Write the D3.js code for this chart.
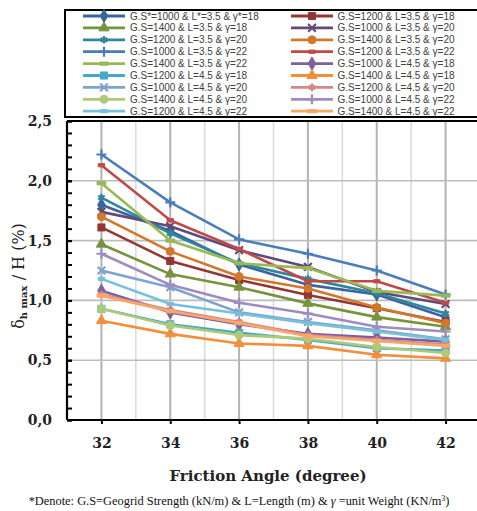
<!DOCTYPE html>
<html><head><meta charset="utf-8">
<script src="https://cdn.jsdelivr.net/npm/d3@7"></script>
<style>body{margin:0;background:#fff}svg{display:block}</style></head>
<body><svg id="c" width="477" height="511"></svg>
<script>
// ---- data ----
const angles = [32, 34, 36, 38, 40, 42];
const yTicks = [0, 0.5, 1.0, 1.5, 2.0, 2.5];
const seriesNames = [
  "G.S*=1000 & L*=3.5 & \u03b3*=18", "G.S=1200 & L=3.5 & \u03b3=18",
  "G.S=1400 & L=3.5 & \u03b3=18", "G.S=1000 & L=3.5 & \u03b3=20",
  "G.S=1200 & L=3.5 & \u03b3=20", "G.S=1400 & L=3.5 & \u03b3=20",
  "G.S=1000 & L=3.5 & \u03b3=22", "G.S=1200 & L=3.5 & \u03b3=22",
  "G.S=1400 & L=3.5 & \u03b3=22", "G.S=1000 & L=4.5 & \u03b3=18",
  "G.S=1200 & L=4.5 & \u03b3=18", "G.S=1400 & L=4.5 & \u03b3=18",
  "G.S=1000 & L=4.5 & \u03b3=20", "G.S=1200 & L=4.5 & \u03b3=20",
  "G.S=1400 & L=4.5 & \u03b3=20", "G.S=1000 & L=4.5 & \u03b3=22",
  "G.S=1200 & L=4.5 & \u03b3=22", "G.S=1400 & L=4.5 & \u03b3=22"
];
const gs1000_L35_g18 = [1.80, 1.58, 1.30, 1.13, 1.05, 0.86];
const gs1200_L35_g18 = [1.61, 1.33, 1.17, 1.045, 0.935, 0.82];
const gs1400_L35_g18 = [1.47, 1.22, 1.11, 0.975, 0.86, 0.78];
const gs1000_L35_g20 = [1.74, 1.62, 1.42, 1.28, 1.07, 0.97];
const gs1200_L35_g20 = [1.86, 1.56, 1.31, 1.18, 1.06, 0.89];
const gs1400_L35_g20 = [1.70, 1.41, 1.20, 1.10, 0.94, 0.81];
const gs1000_L35_g22 = [2.22, 1.82, 1.51, 1.39, 1.25, 1.05];
const gs1200_L35_g22 = [2.13, 1.67, 1.43, 1.16, 1.16, 0.98];
const gs1400_L35_g22 = [1.98, 1.50, 1.31, 1.27, 1.08, 1.04];
const gs1000_L45_g18 = [1.08, 0.90, 0.80, 0.72, 0.69, 0.655];
const gs1200_L45_g18 = [0.93, 0.80, 0.73, 0.67, 0.60, 0.58];
const gs1400_L45_g18 = [0.83, 0.72, 0.64, 0.62, 0.545, 0.515];
const gs1000_L45_g20 = [1.25, 1.11, 0.90, 0.82, 0.75, 0.675];
const gs1200_L45_g20 = [1.05, 0.92, 0.82, 0.71, 0.67, 0.63];
const gs1400_L45_g20 = [0.93, 0.79, 0.71, 0.68, 0.61, 0.56];
const gs1000_L45_g22 = [1.39, 1.13, 0.98, 0.89, 0.78, 0.74];
const gs1200_L45_g22 = [1.18, 0.97, 0.89, 0.81, 0.74, 0.67];
const gs1400_L45_g22 = [1.04, 0.91, 0.81, 0.70, 0.66, 0.62];
const seriesValues = [gs1000_L35_g18, gs1200_L35_g18, gs1400_L35_g18, gs1000_L35_g20,
  gs1200_L35_g20, gs1400_L35_g20, gs1000_L35_g22, gs1200_L35_g22, gs1400_L35_g22,
  gs1000_L45_g18, gs1200_L45_g18, gs1400_L45_g18, gs1000_L45_g20, gs1200_L45_g20,
  gs1400_L45_g20, gs1000_L45_g22, gs1200_L45_g22, gs1400_L45_g22];

// ---- styles ----
const colors = ["#3A649C", "#963634", "#77933C", "#604A7B", "#31859C", "#D3772A",
  "#4A7EBB", "#BE4B48", "#98B954", "#7D60A0", "#46AAC5", "#F38F3A",
  "#7EA2D2", "#D48784", "#AFC97A", "#9F8CBF", "#74C1D8", "#F9A66A"];
const symDash = {draw(ctx, size){ const w = Math.sqrt(size); ctx.rect(-w/2, -1.6, w, 3.2); }};
const symLong = {draw(ctx, size){ const w = Math.sqrt(size)*1.4; ctx.rect(-w/2, -1.6, w, 3.2); }};
const markerTypes = [
  {t:d3.symbolDiamond, s:50, f:true}, {t:d3.symbolSquare, s:50, f:true},
  {t:d3.symbolTriangle, s:45, f:true}, {t:d3.symbolTimes, s:40, f:false},
  {t:d3.symbolAsterisk, s:40, f:false}, {t:d3.symbolCircle, s:50, f:true},
  {t:d3.symbolPlus, s:35, f:false}, {t:symDash, s:40, f:true}, {t:symLong, s:40, f:true}
];

const svg = d3.select("#c");
const W = 477, H = 511;
const x = d3.scaleLinear().domain([31, 43]).range([67, 480]);
const y = d3.scaleLinear().domain([0, 2.5]).range([420, 121]);

// gridlines
const g = svg.append("g");
g.selectAll("line.vg").data(d3.range(32, 44)).join("line")
  .attr("x1", d => x(d)).attr("x2", d => x(d)).attr("y1", y(2.5)).attr("y2", y(0))
  .attr("stroke", d => d % 2 === 0 ? "#B3B3B3" : "#D9D9D9")
  .attr("stroke-width", d => d % 2 === 0 ? 2 : 1.5);
g.selectAll("line.hg").data([0.5, 1.0, 1.5, 2.0]).join("line")
  .attr("x1", x(31)).attr("x2", x(43)).attr("y1", d => y(d)).attr("y2", d => y(d))
  .attr("stroke", "#BDBDBD").attr("stroke-width", 1.6);

// series
const line = d3.line().x((d, i) => x(angles[i])).y(d => y(d));
seriesValues.forEach((vals, k) => {
  const c = colors[k], m = markerTypes[k % 9];
  svg.append("path").datum(vals).attr("d", line)
    .attr("fill", "none").attr("stroke", c).attr("stroke-width", 2.6).attr("stroke-linejoin", "round");
  const sym = d3.symbol().type(m.t).size(m.s);
  svg.append("g").selectAll("path").data(vals).join("path")
    .attr("transform", (d, i) => `translate(${x(angles[i])},${y(d)})`)
    .attr("d", sym)
    .attr("fill", m.f ? c : "none").attr("stroke", c).attr("stroke-width", m.f ? 1 : 2.2);
});

// plot border top
svg.append("line").attr("x1", x(31)).attr("x2", W + 5).attr("y1", y(2.5)).attr("y2", y(2.5))
  .attr("stroke", "#000").attr("stroke-width", 2);

// axes
const fmt = d => d.toFixed(1).replace(".", ",");
const yAxis = svg.append("g").attr("transform", `translate(${x(31)},0)`)
  .call(d3.axisLeft(y).tickValues(yTicks).tickSize(-5).tickPadding(15).tickFormat(fmt));
const yMinor = svg.append("g").attr("transform", `translate(${x(31)},0)`)
  .call(d3.axisLeft(y).tickValues(d3.range(0, 2.51, 0.1)).tickSize(-5).tickFormat(""));
const xAxis = svg.append("g").attr("transform", `translate(0,${y(0)})`)
  .call(d3.axisBottom(x).tickValues(angles).tickSize(4).tickPadding(14).tickFormat(d3.format("d")));
[yAxis, yMinor, xAxis].forEach(a => {
  a.select(".domain").attr("stroke", "#000").attr("stroke-width", 2.2);
  a.selectAll(".tick line").attr("stroke", "#000").attr("stroke-width", 2);
  a.selectAll("text").attr("font-family", "DejaVu Serif").attr("font-weight", "bold")
    .attr("font-size", 14).attr("fill", "#222");
});
xAxis.select(".domain").attr("d", `M${x(31)},0H${W+5}`);
yAxis.select(".domain").attr("d", `M0,${y(2.5)}V${y(0)}`);
yMinor.select(".domain").remove();

// titles
svg.append("text").attr("x", 268).attr("y", 481).attr("text-anchor", "middle")
  .attr("font-family", "DejaVu Serif").attr("font-weight", "bold").attr("font-size", 15)
  .attr("fill", "#222").text("Friction Angle (degree)");

const yt = svg.append("text").attr("transform", "translate(24,276) rotate(-90)")
  .attr("text-anchor", "middle").attr("font-family", "DejaVu Serif").attr("font-size", 16)
  .attr("fill", "#222");
yt.append("tspan").text("\u03b4");
yt.append("tspan").attr("font-size", 10).attr("font-weight", "bold").attr("dy", 3).text("h max");
yt.append("tspan").attr("dy", -3).text(" / H (%)");

const fn = svg.append("text").attr("x", 239).attr("y", 505).attr("text-anchor", "middle")
  .attr("font-family", "Liberation Serif").attr("font-size", 12.4).attr("fill", "#111");
fn.append("tspan").text("*Denote: G.S=Geogrid Strength (kN/m) & L=Length (m) & ");
fn.append("tspan").attr("font-style", "italic").text("\u03b3");
fn.append("tspan").text(" =unit Weight (KN/m");
fn.append("tspan").attr("font-size", 7.5).attr("dy", -4).text("3");
fn.append("tspan").attr("dy", 4).text(")");

// legend
svg.append("rect").attr("x", 65).attr("y", 10).attr("width", 414).attr("height", 107)
  .attr("fill", "#fff").attr("stroke", "#000").attr("stroke-width", 2);
const leg = svg.append("g");
seriesNames.forEach((name, k) => {
  const col = k % 2, row = Math.floor(k / 2);
  const x0 = col === 0 ? 83 : 291, x1 = col === 0 ? 125 : 333, tx = col === 0 ? 130 : 337.5;
  const yy = 16 + row * 11.9;
  const c = colors[k], m = markerTypes[k % 9];
  leg.append("line").attr("x1", x0).attr("x2", x1).attr("y1", yy).attr("y2", yy)
    .attr("stroke", c).attr("stroke-width", 2.8);
  leg.append("path").attr("transform", `translate(${(x0 + x1) / 2},${yy})`)
    .attr("d", d3.symbol().type(m.t).size(m.s)())
    .attr("fill", m.f ? c : "none").attr("stroke", c).attr("stroke-width", m.f ? 1 : 2.2);
  leg.append("text").attr("x", tx).attr("y", yy).attr("dy", "0.35em")
    .attr("font-family", "Liberation Sans").attr("font-size", 10).attr("fill", "#404040")
    .text(name);
});
</script></body></html>
